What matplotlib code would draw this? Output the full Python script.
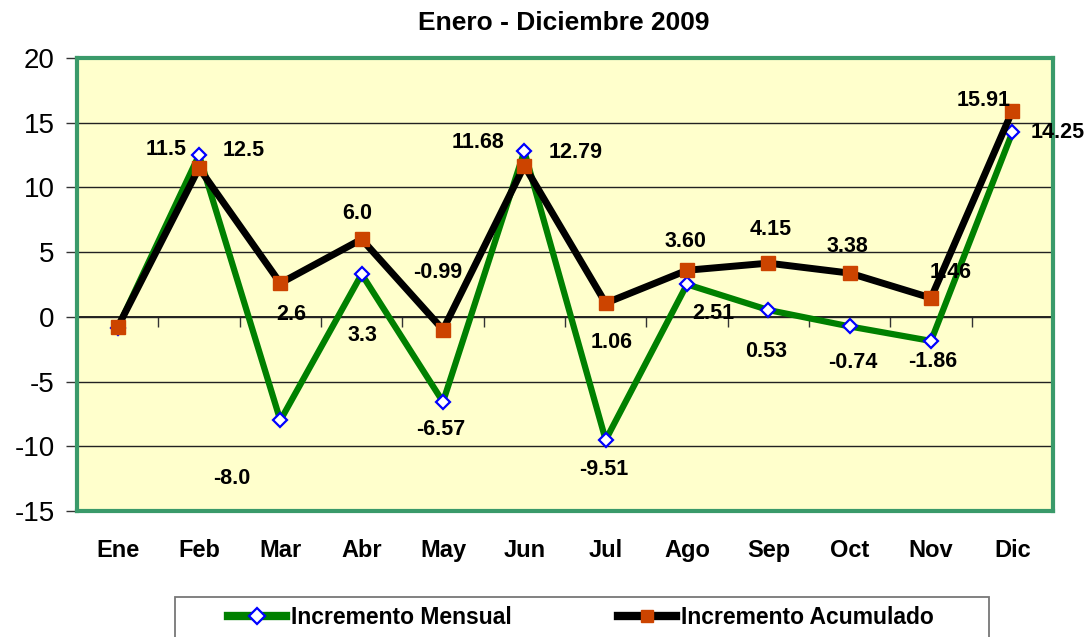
import matplotlib
matplotlib.use("Agg")
import matplotlib.pyplot as plt
from matplotlib.lines import Line2D
from matplotlib.patches import Rectangle

months = ["Ene", "Feb", "Mar", "Abr", "May", "Jun", "Jul", "Ago", "Sep", "Oct", "Nov", "Dic"]
mensual = [-0.85, 12.5, -8.0, 3.3, -6.57, 12.79, -9.51, 2.51, 0.53, -0.74, -1.86, 14.25]
acumulado = [-0.8, 11.5, 2.6, 6.0, -0.99, 11.68, 1.06, 3.60, 4.15, 3.38, 1.46, 15.91]
mensual_labels = [None, "12.5", "-8.0", "3.3", "-6.57", "12.79", "-9.51", "2.51", "0.53", "-0.74", "-1.86", "14.25"]
acumulado_labels = [None, "11.5", "2.6", "6.0", "-0.99", "11.68", "1.06", "3.60", "4.15", "3.38", "1.46", "15.91"]
yticks = [-15, -10, -5, 0, 5, 10, 15, 20]

# label offsets in pixels (dx right, dy up)
mensual_off = [(0, 0), (45, 5), (-49, -58), (1, -61), (-2, -28), (51, -1), (-2, -30),
               (26, -29), (-2, -42), (3, -36), (2, -21), (45, 0)]
acum_off = [(0, 0), (-33, 19), (11, -31), (-4, 26), (-5, 57), (-46, 23), (6, -39),
            (-2, 29), (2, 34), (-2, 27), (20, 25), (-29, 10)]

base = "Liberation Sans"

fig = plt.figure(figsize=(10.89, 6.37), dpi=100)
W, H = 1089, 637
ax = fig.add_axes([77 / W, 1 - 511 / H, (1053 - 77) / W, (511 - 58) / H])
ax.set_facecolor("#FFFFCC")

x = list(range(len(months)))
ax.set_xlim(-0.5, len(months) - 0.5)
ax.set_ylim(-15, 20)

for v in yticks:
    if v not in (-15, 20):
        ax.axhline(v, color="#222222", lw=1.0, zorder=1)

ax.plot(x, mensual, color="#008000", lw=4.5, marker="D", ms=7.5, mfc="white",
        mec="#0000FF", mew=1.6, zorder=3, label="Incremento Mensual")
ax.plot(x, acumulado, color="black", lw=5, marker="s", ms=9.5, mfc="#CC4400",
        mec="#CC4400", zorder=4, label="Incremento Acumulado")

px = 72 / 100
for i in x:
    if mensual_labels[i]:
        dx, dy = mensual_off[i]
        ax.annotate(mensual_labels[i], (i, mensual[i]), xytext=(dx * px, dy * px),
                    textcoords="offset points", ha="center", va="center",
                    fontsize=15.5, fontweight="bold", family=base, zorder=6,
                    annotation_clip=False)
    if acumulado_labels[i]:
        dx, dy = acum_off[i]
        ax.annotate(acumulado_labels[i], (i, acumulado[i]), xytext=(dx * px, dy * px),
                    textcoords="offset points", ha="center", va="center",
                    fontsize=15.5, fontweight="bold", family=base, zorder=6,
                    annotation_clip=False)

ax.set_yticks(yticks)
ax.set_yticklabels([str(v) for v in yticks], fontsize=20, family=base)
ax.tick_params(axis="y", direction="out", length=8, width=1, color="#333333", pad=8)

ax.set_xticks(x)
ax.set_xticklabels(months, fontsize=17, fontweight="bold", family=base)
ax.tick_params(axis="x", length=0, pad=20)

for s in ax.spines.values():
    s.set_color("#3A9A6A")
    s.set_linewidth(3)

sec = ax.secondary_xaxis(15 / 35)
sec.set_xticks([i + 0.5 for i in x[:-1]] + [len(months) - 0.5])
sec.tick_params(axis="x", direction="out", length=7, width=1, color="#333333", labelbottom=False)
sec.set_xticklabels([])
sec.spines["bottom"].set_color("black")
sec.spines["bottom"].set_linewidth(1.2)

fig.text(564 / W, 1 - 23 / H, "Enero - Diciembre 2009", ha="center", va="center",
         fontsize=19, fontweight="bold", family=base)

# legend frame
fig.patches.append(Rectangle((175 / W, -5 / H), (989 - 175) / W, (H - 597 + 5) / H,
                             transform=fig.transFigure, facecolor="white",
                             edgecolor="#777777", lw=1.3, zorder=0))

handles = [
    Line2D([], [], color="#008000", lw=6, marker="D", ms=8, mfc="white", mec="#0000FF", mew=1.6),
    Line2D([], [], color="black", lw=6, marker="s", ms=9, mfc="#CC4400", mec="#CC4400"),
]
leg = fig.legend(handles, ["Incremento Mensual", "Incremento Acumulado"], ncol=2,
                 loc="center left", bbox_to_anchor=(228 / W, 1 - 618 / H),
                 frameon=False, prop={"family": base, "weight": "bold", "size": 16.5},
                 handlelength=2.55, handletextpad=0.22, columnspacing=4.6, borderpad=0,
                 borderaxespad=0)

fig.savefig("out.png", dpi=100)
